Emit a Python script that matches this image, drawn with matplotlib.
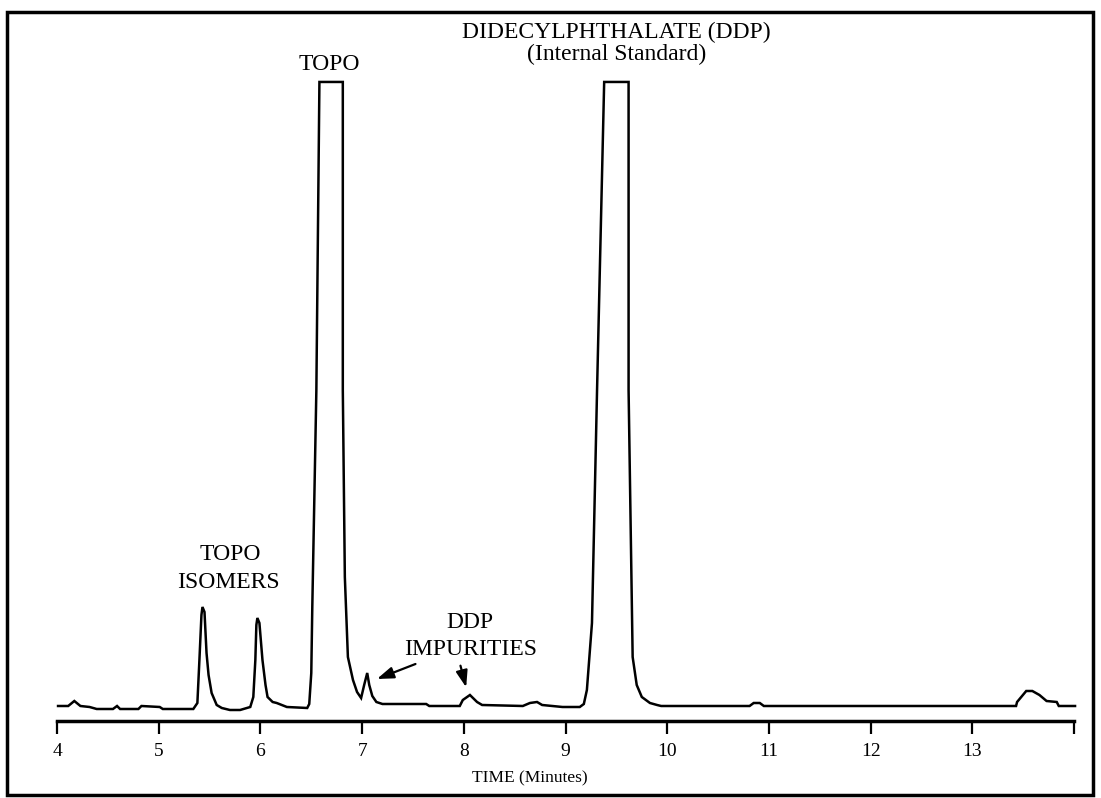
import numpy as np
import matplotlib
matplotlib.use("Agg")
import matplotlib.pyplot as plt
from matplotlib.patches import Rectangle

# chromatogram trace (time in minutes, detector response, arbitrary units)
tempo = [4.01, 4.11, 4.17, 4.23, 4.32, 4.39, 4.55, 4.59, 4.62, 4.80, 4.83, 5.01, 5.04,
         5.34, 5.38, 5.40, 5.42, 5.43, 5.45, 5.47, 5.49, 5.52, 5.57, 5.62, 5.70, 5.80,
         5.90, 5.93, 5.95, 5.96, 5.97, 5.99, 6.02, 6.05, 6.07, 6.12, 6.16, 6.26, 6.46,
         6.48, 6.50, 6.51, 6.55, 6.58, 6.81, 6.81, 6.83, 6.86, 6.91, 6.95, 6.99, 7.02,
         7.05, 7.07, 7.10, 7.14, 7.20, 7.63, 7.66, 7.96, 7.99, 8.06, 8.13, 8.18, 8.58,
         8.65, 8.72, 8.77, 8.97, 9.14, 9.18, 9.21, 9.26, 9.31, 9.38, 9.62, 9.62, 9.66,
         9.70, 9.75, 9.83, 9.90, 9.94, 10.81, 10.85, 10.91, 10.95, 13.43, 13.44, 13.53,
         13.59, 13.66, 13.73, 13.83, 13.85, 14.01]
sinal = [0, 0, 5, 0, -1, -3, -3, 0, -3, -3, 0, -1, -3,
         -3, 3, 46, 91, 99, 94, 53, 31, 13, 1, -2, -4, -4,
         -1, 9, 46, 81, 88, 83, 46, 21, 9, 4, 3, -1, -2,
         2, 33, 99, 316, 624, 624, 316, 129, 49, 26, 14, 8, 21,
         33, 21, 10, 4, 2, 2, 0, 0, 6, 11, 4, 1, 0,
         3, 4, 1, -1, -1, 2, 16, 83, 316, 624, 624, 316, 49,
         21, 9, 3, 1, 0, 0, 3, 3, 0, 0, 4, 15,
         15, 11, 5, 4, 0, 0]

ticks = [4, 5, 6, 7, 8, 9, 10, 11, 12, 13, 14]
tick_labels = ["4", "5", "6", "7", "8", "9", "10", "11", "12", "13", ""]

plt.rcParams['font.family'] = ['Liberation Serif', 'DejaVu Serif']

fig = plt.figure(figsize=(11.01, 7.98), dpi=100)
ax = fig.add_axes([0.0518, 0.0965, 0.9237, 0.8008])

ax.plot(tempo, sinal, color="black", lw=1.8, clip_on=False, solid_joinstyle="miter")

ax.set_xlim(4, 14)
ax.set_ylim(-15, 624)
for s in ["top", "left", "right"]:
    ax.spines[s].set_visible(False)
ax.spines["bottom"].set_linewidth(2.5)
ax.set_yticks([])
ax.set_xticks(ticks)
ax.set_xticklabels(tick_labels)
ax.tick_params(axis="x", direction="out", length=9, width=1.6, labelsize=14, pad=7)

# rótulo do eixo, um pouco à esquerda do centro como no original
ax.text(8.65, -1.5 * 15 - 50, "TIME (Minutes)", ha="center", va="center", fontsize=12.5,
        clip_on=False)

# anotações
ax.text(6.68, 641, "TOPO", ha="center", va="center", fontsize=17)
ax.text(9.50, 673, "DIDECYLPHTHALATE (DDP)", ha="center", va="center", fontsize=17)
ax.text(9.50, 651, "(Internal Standard)", ha="center", va="center", fontsize=17)
ax.text(5.70, 151, "TOPO", ha="center", va="center", fontsize=17)
ax.text(5.69, 123, "ISOMERS", ha="center", va="center", fontsize=17)
ax.text(8.06, 83, "DDP", ha="center", va="center", fontsize=17)
ax.text(8.07, 56, "IMPURITIES", ha="center", va="center", fontsize=17)

seta = dict(arrowstyle="-|>,head_length=1.0,head_width=0.35", color="black", lw=1.6)
ax.annotate("", xy=(7.12, 26), xytext=(7.55, 43), arrowprops=seta)
ax.annotate("", xy=(8.03, 16), xytext=(7.96, 43), arrowprops=seta)

# moldura em volta da figura
fig.add_artist(Rectangle((0.0064, 0.0038), 0.9864, 0.9812, transform=fig.transFigure,
                         fill=False, edgecolor="black", lw=2.5))

fig.savefig("out.png", dpi=100)
